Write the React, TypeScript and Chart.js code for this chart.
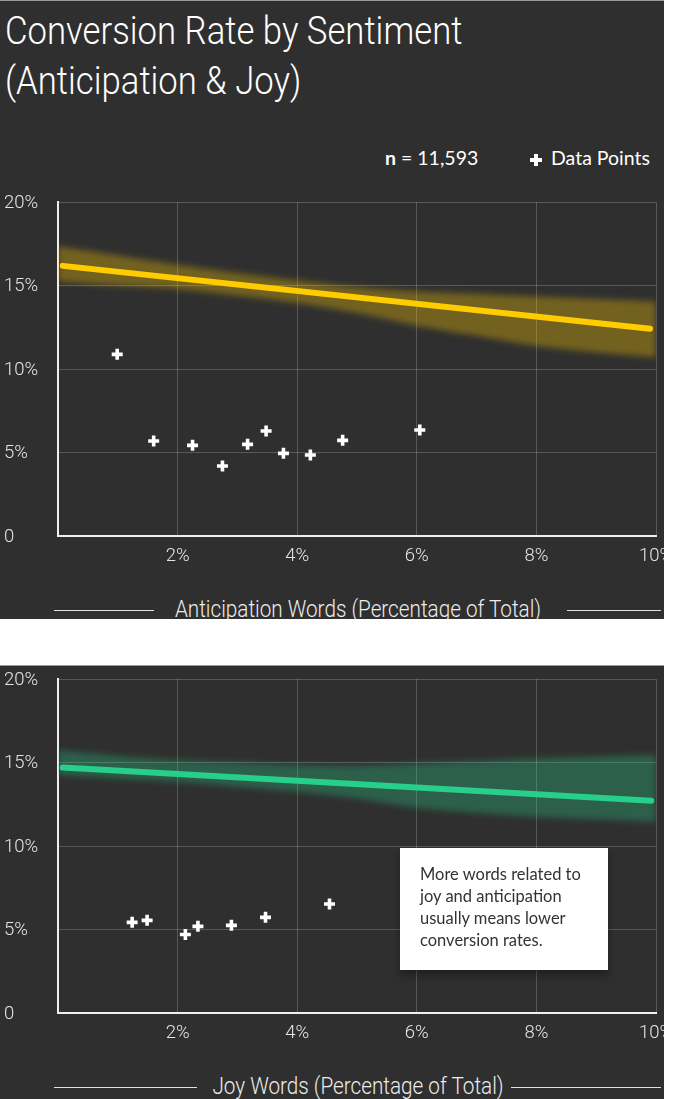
import React, { useEffect, useRef } from 'react';
import { Chart, registerables } from 'chart.js';

// Shared axis ticks (percent of total words / conversion rate)
const xTickValues = [0, 2, 4, 6, 8, 10];
const yTickValues = [0, 5, 10, 15, 20];

// Anticipation words vs conversion rate
const anticipationX = [0.99, 1.6, 2.25, 2.75, 3.17, 3.48, 3.77, 4.22, 4.76, 6.05];
const anticipationY = [10.88, 5.69, 5.43, 4.19, 5.49, 6.29, 4.95, 4.85, 5.73, 6.35];
const anticipationTrendX = [0.08, 9.9];
const anticipationTrendY = [16.18, 12.42];
const bandX = [0, 1, 2, 3, 4, 5, 6, 7, 8, 9, 10];
const anticipationUpper = [17.35, 16.8, 16.25, 15.75, 15.3, 14.9, 14.65, 14.5, 14.35, 14.2, 14.05];
const anticipationLower = [15.25, 15.0, 14.8, 14.4, 13.95, 13.35, 12.6, 12.0, 11.4, 11.0, 10.7];

// Joy words vs conversion rate
const joyX = [1.24, 1.49, 2.13, 2.34, 2.9, 3.47, 4.54];
const joyY = [5.43, 5.55, 4.7, 5.19, 5.25, 5.73, 6.53];
const joyTrendX = [0.08, 9.92];
const joyTrendY = [14.7, 12.72];
const joyUpper = [15.75, 15.4, 15.15, 15.0, 14.85, 14.8, 14.95, 15.1, 15.25, 15.35, 15.45];
const joyLower = [14.25, 14.05, 13.85, 13.55, 13.25, 12.85, 12.3, 12.0, 11.75, 11.6, 11.45];

const BG = '#2f2f2f';
const GRID = 'rgba(255,255,255,0.2)';
const AXIS = '#efefef';
const TICK_FONT = { family: 'Roboto', weight: '300', size: 18.5 } as any;

// Softens the confidence band: registered ahead of the filler so the fill is drawn blurred.
const bandBlur = {
  id: 'bandBlur',
  beforeDatasetDraw(chart: any, args: any) {
    const ds = chart.data.datasets[args.index];
    if (ds && ds.blurRadius) {
      chart.ctx.save();
      chart.ctx.filter = `blur(${ds.blurRadius}px)`;
    }
  },
  afterDatasetDraw(chart: any, args: any) {
    const ds = chart.data.datasets[args.index];
    if (ds && ds.blurRadius) chart.ctx.restore();
  },
};

Chart.register(bandBlur, ...registerables);

const pts = (xs: number[], ys: number[]) => xs.map((x, i) => ({ x, y: ys[i] }));

function buildConfig(
  px: number[], py: number[], tx: number[], ty: number[],
  upper: number[], lower: number[], lineColor: string, bandColor: string,
): any {
  return {
    type: 'scatter',
    data: {
      datasets: [
        {
          type: 'scatter',
          data: pts(px, py),
          pointStyle: 'cross',
          pointRadius: 5.5,
          borderWidth: 3.6,
          borderColor: '#ffffff',
          backgroundColor: '#ffffff',
        },
        {
          type: 'line',
          data: pts(tx, ty),
          borderColor: lineColor,
          borderWidth: 6,
          borderCapStyle: 'round',
          pointRadius: 0,
          fill: false,
        },
        {
          type: 'line',
          data: pts(bandX, upper),
          borderWidth: 0,
          pointRadius: 0,
          tension: 0.3,
          fill: false,
        },
        {
          type: 'line',
          data: pts(bandX, lower),
          borderWidth: 0,
          pointRadius: 0,
          tension: 0.3,
          fill: '-1',
          backgroundColor: bandColor,
          blurRadius: 3,
        },
      ],
    },
    options: {
      animation: false,
      responsive: false,
      events: [],
      layout: { padding: { top: 11, left: 4, right: 20, bottom: 0 } },
      plugins: { legend: { display: false }, tooltip: { enabled: false } },
      scales: {
        x: {
          type: 'linear',
          min: 0,
          max: 10,
          afterBuildTicks: (s: any) => { s.ticks = xTickValues.map((value) => ({ value })); },
          afterFit: (s: any) => {
            s.height = 35;
            s.paddingLeft = 0;
            s.paddingRight = 0;
          },
          ticks: {
            callback: (v: number) => (v === 0 ? '' : `${v}%`),
            color: '#e4e4e4',
            font: TICK_FONT,
            padding: 9,
            maxRotation: 0,
            autoSkip: false,
          },
          grid: { color: GRID, drawTicks: false },
          border: { color: AXIS, width: 2 },
        },
        y: {
          type: 'linear',
          min: 0,
          max: 20,
          afterBuildTicks: (s: any) => { s.ticks = yTickValues.map((value) => ({ value })); },
          afterFit: (s: any) => { s.width = 54; },
          ticks: {
            callback: (v: number) => (v === 0 ? '0' : `${v}%`),
            color: '#e4e4e4',
            font: TICK_FONT,
            crossAlign: 'far',
            labelOffset: 1,
            padding: 0,
          },
          grid: { color: GRID, drawTicks: false },
          border: { color: AXIS, width: 2 },
        },
      },
    },
  };
}

function PlotCanvas({ config, top }: { config: () => any; top: number }) {
  const ref = useRef<HTMLCanvasElement | null>(null);
  useEffect(() => {
    const chart = new Chart(ref.current as HTMLCanvasElement, config());
    return () => chart.destroy();
  }, []);
  return (
    <canvas
      ref={ref}
      width={676}
      height={380}
      style={{ position: 'absolute', left: 0, top, display: 'block' }}
    />
  );
}

function AxisTitle({ text, y, leftEnd, rightStart }: { text: string; y: number; leftEnd: number; rightStart: number }) {
  return (
    <>
      <div style={{ position: 'absolute', left: 54, top: y, width: leftEnd - 54, height: 1, background: '#e0e0e0' }} />
      <div style={{ position: 'absolute', left: rightStart, top: y, width: 661 - rightStart, height: 1, background: '#e0e0e0' }} />
      <div
        style={{
          position: 'absolute',
          left: 358,
          top: y,
          transform: 'translate(-50%, -50%) scaleX(0.9)',
          fontFamily: 'Roboto',
          fontWeight: 300,
          fontSize: 23,
          lineHeight: '28px',
          color: '#ececec',
          whiteSpace: 'nowrap',
        }}
      >
        {text}
      </div>
    </>
  );
}

function CrossMark() {
  return (
    <span style={{ position: 'relative', display: 'inline-block', width: 12, height: 12, marginRight: 9, verticalAlign: '-1px' }}>
      <span style={{ position: 'absolute', left: 0, top: 4, width: 12, height: 4, background: '#fff' }} />
      <span style={{ position: 'absolute', left: 4, top: 0, width: 4, height: 12, background: '#fff' }} />
    </span>
  );
}

export default function App() {
  const panel: React.CSSProperties = {
    position: 'absolute',
    left: 0,
    width: 664,
    background: BG,
    overflow: 'hidden',
    borderTop: '1px solid #9a9a9a',
    boxSizing: 'border-box',
  };
  const legendText: React.CSSProperties = {
    position: 'absolute',
    top: 144,
    fontFamily: 'Lato',
    fontSize: 19.5,
    lineHeight: '26px',
    color: '#fff',
    whiteSpace: 'nowrap',
  };
  return (
    <div style={{ position: 'absolute', left: 0, top: 0, width: 676, height: 1099, background: '#ffffff', overflow: 'hidden' }}>
      <div style={{ ...panel, top: 0, height: 619 }}>
        <div
          style={{
            position: 'absolute',
            left: 5,
            top: 5,
            fontFamily: 'Roboto',
            fontWeight: 300,
            fontSize: 39,
            lineHeight: '50px',
            color: '#ffffff',
            transform: 'scaleX(0.89)',
            transformOrigin: 'left top',
            whiteSpace: 'nowrap',
          }}
        >
          Conversion Rate by Sentiment
          <br />
          (Anticipation &amp; Joy)
        </div>
        <div style={{ ...legendText, left: 385 }}>
          <b>n</b> = 11,593
        </div>
        <div style={{ ...legendText, left: 530 }}>
          <CrossMark />Data Points
        </div>
        <PlotCanvas
          top={190}
          config={() => buildConfig(anticipationX, anticipationY, anticipationTrendX, anticipationTrendY,
            anticipationUpper, anticipationLower, '#ffcc00', 'rgba(255,204,0,0.33)')}
        />
        <AxisTitle text="Anticipation Words (Percentage of Total)" y={609} leftEnd={154} rightStart={567} />
      </div>

      <div style={{ ...panel, top: 665, height: 434 }}>
        <PlotCanvas
          top={2}
          config={() => buildConfig(joyX, joyY, joyTrendX, joyTrendY,
            joyUpper, joyLower, '#27cf8b', 'rgba(39,207,139,0.31)')}
        />
        <div
          style={{
            position: 'absolute',
            left: 400,
            top: 182,
            width: 208,
            height: 122,
            boxSizing: 'border-box',
            background: '#ffffff',
            padding: '15px 12px 0 20px',
            fontFamily: 'Lato',
            fontSize: 16.5,
            lineHeight: '22px',
            color: '#333333',
            boxShadow: '0 5px 8px rgba(0,0,0,0.35)',
          }}
        >
          More words related to joy and anticipation usually means lower conversion rates.
        </div>
        <AxisTitle text="Joy Words (Percentage of Total)" y={421} leftEnd={197} rightStart={511} />
      </div>
    </div>
  );
}
